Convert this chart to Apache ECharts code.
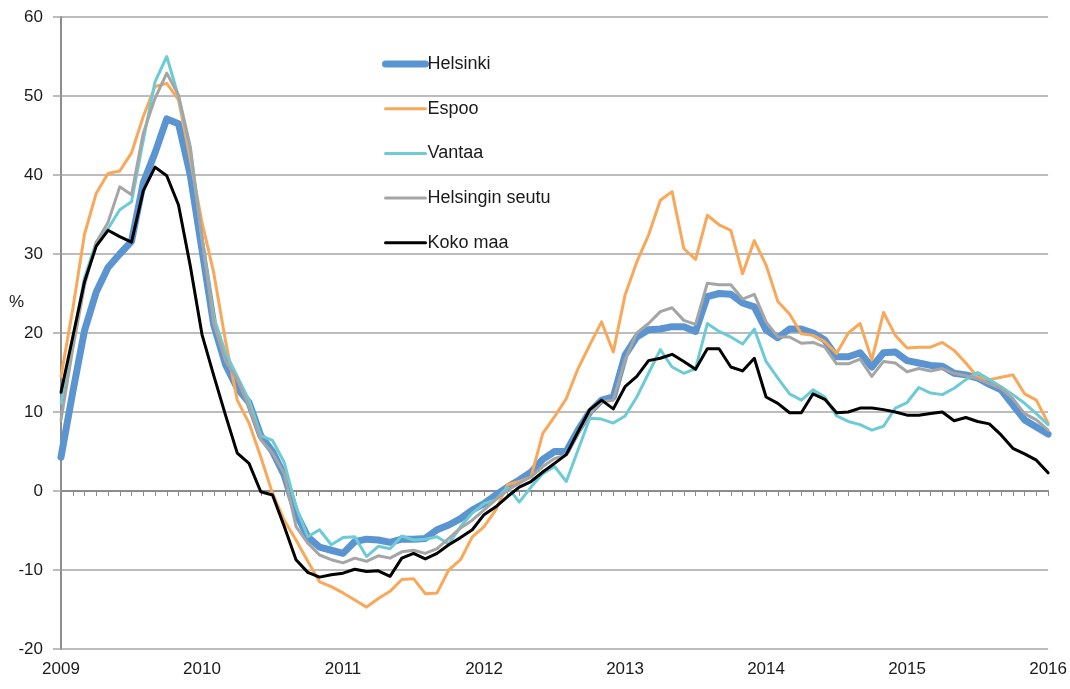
<!DOCTYPE html>
<html>
<head>
<meta charset="utf-8">
<script src="https://cdn.jsdelivr.net/npm/echarts@6/dist/echarts.min.js"></script>
<style>
  html, body { margin: 0; padding: 0; background: #fff; }
  #chart { width: 1070px; height: 689px; }
</style>
</head>
<body>
<div id="chart"></div>
<script>
// Asuntojen hintojen vuosimuutos, kuukausittain 2009-01 ... 2016-01
var years = ['2009', '2010', '2011', '2012', '2013', '2014', '2015', '2016'];
var months = [];
years.forEach(function(y, k) {
  var last = k === years.length - 1 ? 1 : 12;
  for (var m = 1; m <= last; m++) months.push(y + '-' + (m < 10 ? '0' + m : m));
});

var helsinki = [4.3, 12.5, 20.3, 25.2, 28.3, 30.0, 31.6, 39.0, 42.8, 47.1, 46.5, 40.0,
  30.5, 21.0, 16.0, 13.0, 11.2, 7.0, 5.0, 2.0, -2.8, -5.8, -7.1, -7.5,
  -7.9, -6.4, -6.1, -6.2, -6.5, -6.1, -6.1, -6.0, -4.9, -4.3, -3.5, -2.4,
  -1.6, -0.5, 0.5, 1.4, 2.4, 4.0, 5.0, 5.0, 7.7, 10.0, 11.5, 11.9,
  17.2, 19.5, 20.4, 20.5, 20.8, 20.8, 20.2, 24.6, 25.0, 24.9, 23.8, 23.3,
  20.4, 19.4, 20.5, 20.5, 20.0, 19.1, 17.0, 17.0, 17.5, 15.7, 17.5, 17.6,
  16.5, 16.2, 15.9, 15.8, 14.9, 14.7, 14.3, 13.5, 12.8, 10.9, 9.0, 8.1,
  7.2];
var espoo = [14.5, 23.0, 32.5, 37.7, 40.2, 40.5, 42.8, 47.4, 51.2, 51.6, 49.5, 42.0,
  34.0, 27.6, 19.0, 11.5, 8.6, 4.3, -0.3, -3.7, -6.2, -8.9, -11.5, -12.1,
  -12.9, -13.8, -14.7, -13.6, -12.7, -11.2, -11.1, -13.0, -12.9, -10.0, -8.7, -5.8,
  -4.5, -2.4, 0.8, 1.2, 1.8, 7.3, 9.4, 11.7, 15.5, 18.5, 21.4, 17.6,
  24.8, 29.0, 32.4, 36.8, 37.9, 30.7, 29.3, 34.9, 33.7, 33.0, 27.5, 31.7,
  28.6, 24.0, 22.4, 19.9, 19.7, 18.9, 17.4, 20.0, 21.2, 16.6, 22.6, 19.7,
  18.1, 18.2, 18.2, 18.8, 17.8, 16.2, 14.4, 14.1, 14.4, 14.7, 12.3, 11.5,
  8.6];
var vantaa = [11.1, 19.0, 27.0, 31.5, 33.2, 35.6, 36.6, 44.4, 51.8, 55.0, 49.9, 43.2,
  32.0, 22.0, 17.5, 14.5, 11.5, 7.0, 6.4, 3.6, -2.0, -5.8, -4.9, -6.8,
  -5.9, -5.8, -8.3, -7.0, -7.3, -5.7, -6.2, -6.1, -5.8, -6.7, -4.5, -2.8,
  -1.6, -1.1, 0.5, -1.4, 0.5, 2.2, 3.1, 1.2, 5.2, 9.2, 9.1, 8.6,
  9.5, 11.9, 14.9, 17.9, 15.7, 14.9, 15.5, 21.2, 20.2, 19.5, 18.6, 20.5,
  16.4, 14.3, 12.3, 11.5, 12.8, 11.9, 9.5, 8.8, 8.4, 7.7, 8.2, 10.5,
  11.2, 13.1, 12.4, 12.2, 13.0, 14.1, 15.0, 14.1, 13.2, 12.2, 11.1, 9.8,
  8.4];
var seutu = [9.0, 18.0, 26.0, 31.5, 34.0, 38.5, 37.5, 45.3, 49.7, 52.9, 50.1, 43.6,
  32.0, 21.2, 16.5, 14.1, 10.7, 6.5, 4.8, 2.2, -4.5, -6.6, -8.1, -8.7,
  -9.1, -8.5, -8.9, -8.2, -8.5, -7.7, -7.5, -7.9, -7.3, -6.0, -4.7, -3.7,
  -2.4, -1.1, 0.1, 1.0, 1.8, 3.1, 4.1, 4.6, 7.3, 9.8, 11.3, 11.5,
  16.6, 20.0, 21.2, 22.7, 23.2, 21.6, 21.1, 26.3, 26.1, 26.1, 24.3, 24.9,
  21.4, 19.5, 19.5, 18.7, 18.8, 18.2, 16.1, 16.1, 16.7, 14.5, 16.4, 16.2,
  15.1, 15.5, 15.2, 15.5, 14.9, 14.6, 14.2, 13.6, 13.0, 11.7, 9.8, 9.0,
  7.7];
var kokoMaa = [12.5, 19.5, 26.5, 31.0, 33.0, 32.2, 31.5, 38.0, 41.0, 39.9, 36.2, 28.5,
  19.8, 14.6, 9.6, 4.8, 3.5, -0.1, -0.5, -4.5, -8.7, -10.3, -10.9, -10.6,
  -10.4, -9.9, -10.2, -10.1, -10.8, -8.5, -7.9, -8.6, -7.9, -6.8, -5.9, -4.9,
  -3.0, -2.0, -0.7, 0.5, 1.2, 2.4, 3.5, 4.6, 7.5, 10.3, 11.5, 10.4,
  13.2, 14.5, 16.5, 16.8, 17.3, 16.4, 15.4, 18.0, 18.0, 15.7, 15.2, 16.8,
  11.9, 11.1, 9.9, 9.9, 12.3, 11.6, 9.9, 10.0, 10.5, 10.5, 10.3, 10.0,
  9.6, 9.6, 9.8, 10.0, 8.9, 9.3, 8.8, 8.5, 7.1, 5.4, 4.7, 3.9,
  2.3];

var font = 'Liberation Sans, Arial, sans-serif';
var ink = '#1a1a1a';
var gridGrey = '#a6a6a6';
var axisGrey = '#8c8c8c';

function lineSeries(name, data, color, width) {
  return {
    name: name,
    type: 'line',
    data: data,
    xAxisIndex: 0,
    symbol: 'none',
    lineStyle: { color: color, width: width, cap: 'round', join: 'round' },
    itemStyle: { color: color },
    emphasis: { disabled: true }
  };
}

var chart = echarts.init(document.getElementById('chart'), null, { renderer: 'canvas' });
chart.setOption({
  animation: false,
  backgroundColor: '#fff',
  textStyle: { fontFamily: font },
  grid: { left: 61, right: 20, top: 17, bottom: 40, containLabel: false },
  legend: {
    orient: 'vertical',
    left: 377,
    top: 50,
    itemWidth: 40,
    itemHeight: 14,
    itemGap: 26.7,
    selectedMode: false,
    itemStyle: { opacity: 0 },
    lineStyle: { width: 'inherit', cap: 'round' },
    textStyle: { color: ink, fontSize: 18, fontFamily: font, padding: [0, 0, 0, -3] },
    data: ['Helsinki', 'Espoo', 'Vantaa', 'Helsingin seutu', 'Koko maa']
  },
  graphic: [{
    type: 'text',
    left: 9,
    top: 294,
    style: { text: '%', fill: ink, fontSize: 17, fontFamily: font }
  }],
  xAxis: [
    {
      type: 'category',
      data: months,
      boundaryGap: false,
      position: 'bottom',
      axisLine: { show: false, onZero: false },
      axisTick: { show: false },
      axisLabel: {
        interval: 11,
        margin: 12,
        color: ink,
        fontSize: 17,
        fontFamily: font,
        formatter: function(v) { return v.slice(0, 4); }
      },
      splitLine: { show: false }
    },
    {
      type: 'category',
      data: months,
      boundaryGap: false,
      position: 'bottom',
      axisLine: { show: true, onZero: true, lineStyle: { color: axisGrey, width: 2 } },
      axisTick: { show: true, interval: 0, length: 5, lineStyle: { color: axisGrey, width: 1 } },
      axisLabel: { show: false },
      splitLine: { show: false }
    }
  ],
  yAxis: {
    type: 'value',
    min: -20,
    max: 60,
    interval: 10,
    axisLine: { show: true, lineStyle: { color: axisGrey, width: 2 } },
    axisTick: { show: true, length: 8, lineStyle: { color: gridGrey, width: 1.5 } },
    axisLabel: { color: ink, fontSize: 17, fontFamily: font, margin: 18 },
    splitLine: { show: true, lineStyle: { color: gridGrey, width: 1.5 } }
  },
  series: [
    lineSeries('Helsinki', helsinki, '#5b95d1', 7),
    lineSeries('Espoo', espoo, '#f9a85a', 3),
    lineSeries('Vantaa', vantaa, '#6ccbd5', 3),
    lineSeries('Helsingin seutu', seutu, '#a5a5a5', 3),
    lineSeries('Koko maa', kokoMaa, '#000000', 3)
  ]
});
</script>
</body>
</html>
